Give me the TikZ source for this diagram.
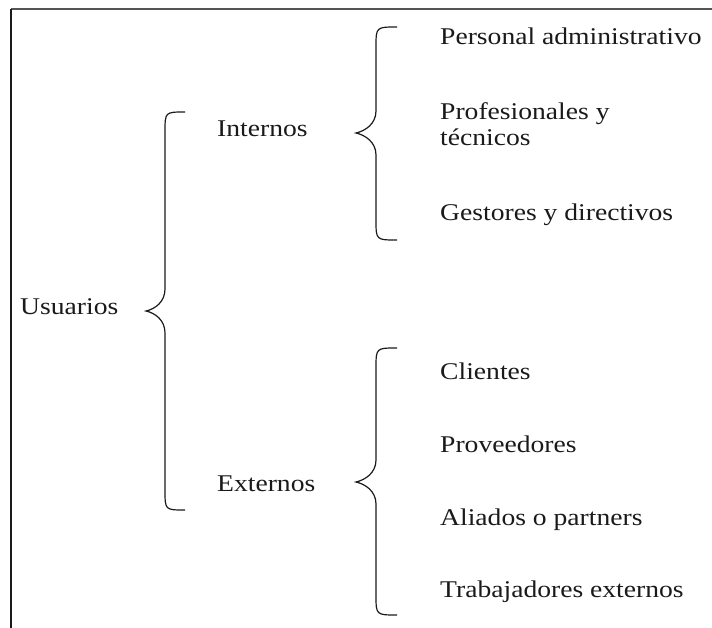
\documentclass[tikz,border=0pt]{standalone}
\usepackage{fontspec}
\setmainfont{Liberation Serif}[FakeStretch=1.15]
\usepackage{tikz}
\definecolor{ink}{HTML}{1A1A1A}
\definecolor{frameline}{HTML}{555555}
\tikzset{
  lbl/.style={anchor=base west, inner sep=0pt, text=ink, align=left,
    font=\fontsize{24}{26}\selectfont},
  llave/.style={line width=1.2pt, draw=ink}
}
% brace: x tip, x stem, x ends, y top, y tip, y bottom
\newcommand{\corchete}[6]{%
  \draw[llave] (#3,#4) .. controls (#2,#4) .. (#2,#4+20) -- (#2,#5-22)
    .. controls (#2,#5-9) and (#1+9,#5-2) .. (#1,#5)
    .. controls (#1+9,#5+2) and (#2,#5+9) .. (#2,#5+22)
    -- (#2,#6-20) .. controls (#2,#6) .. (#3,#6);}

\begin{document}
\begin{tikzpicture}[x=1pt,y=-1pt]
\useasboundingbox (0,0) rectangle (712,628);
\draw[frameline, line width=1.2pt] (11,9) -- (712,9);
\draw[ink, line width=1.2pt] (11,628) -- (11,9);

\node[lbl] (usu) at (20,315) {Usuarios};
\node[lbl] (int) at (217,137) {Internos};
\node[lbl] (ext) at (217,491) {Externos};

\node[lbl] (adm) at (440,45) {Personal administrativo};
\node[lbl] (pro) at (440,146) {Profesionales y\\técnicos};
\node[lbl] (ges) at (440,221) {Gestores y directivos};

\node[lbl] (cli) at (440,379) {Clientes};
\node[lbl] (prv) at (440,452) {Proveedores};
\node[lbl] (ali) at (440,525) {Aliados o partners};
\node[lbl] (tra) at (440,597) {Trabajadores externos};

\corchete{146}{165}{185}{112}{311}{510}
\corchete{356}{376}{397}{27}{133}{240}
\corchete{356}{376}{397}{348}{482}{615}
\end{tikzpicture}
\end{document}
